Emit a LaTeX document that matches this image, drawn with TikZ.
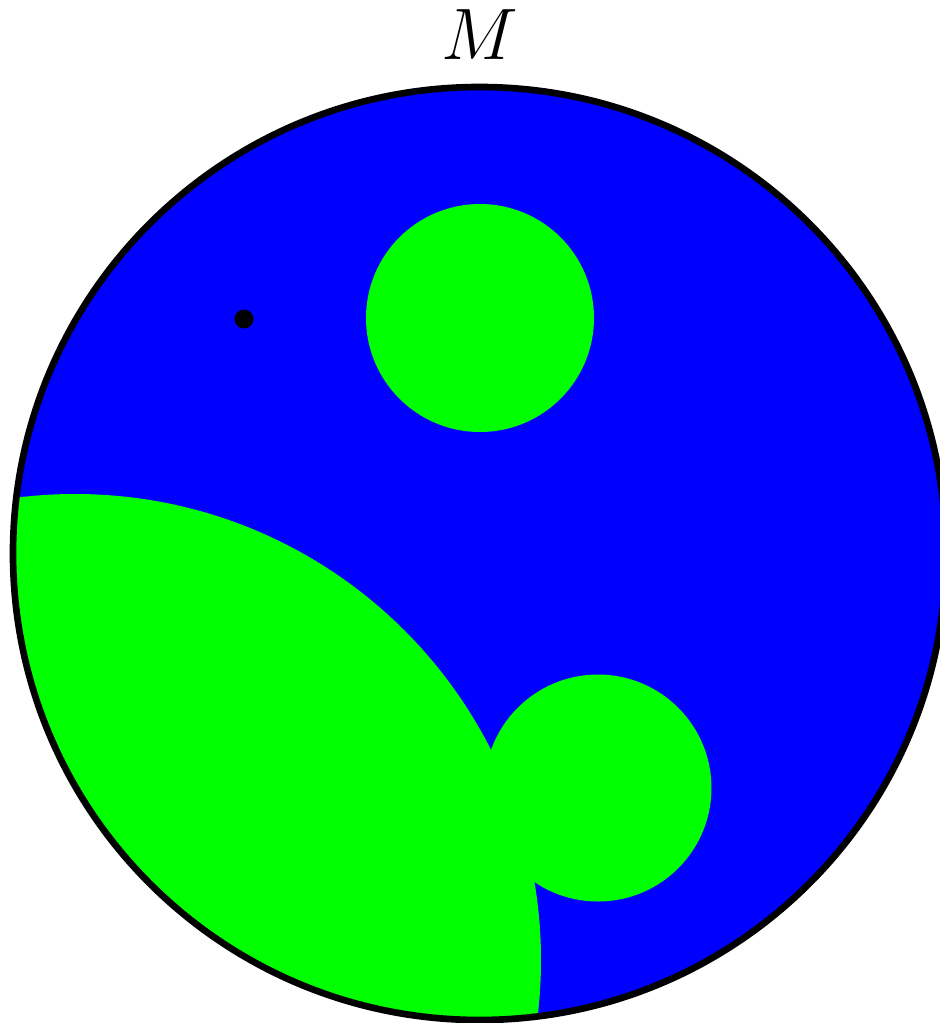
\documentclass[tikz,border=0pt]{standalone}
\usepackage{amsmath,amssymb}
\usepackage{tikz}
\usetikzlibrary{positioning}

\definecolor{puregreen}{RGB}{0,255,0}
\definecolor{pureblue}{RGB}{0,0,255}

\begin{document}
\begin{tikzpicture}[
    x=0.01cm, y=-0.01cm,
    region/.style={fill=puregreen},
    boundary/.style={draw=black, line width=1.9pt},
    marker/.style={circle, fill=black, inner sep=0pt, minimum size=0.19cm}
]
\useasboundingbox (0,0) rectangle (940,1023);

\coordinate (O) at (479.5,553.5);
\fill[pureblue] (O) circle (466.5);

% green regions inside M
\begin{scope}
    \clip (O) circle (466.5);
    \fill[region] (75,960) circle (466);
    \fill[region] (598,788) circle (113.5);
    \fill[region] (480,318) circle (114);
\end{scope}

\draw[boundary] (O) circle (466.5);

\node[marker] (p) at (244,319) {};
\node[font=\fontsize{19.5}{23}\selectfont] (M) at (480,35) {$M$};
\end{tikzpicture}
\end{document}
